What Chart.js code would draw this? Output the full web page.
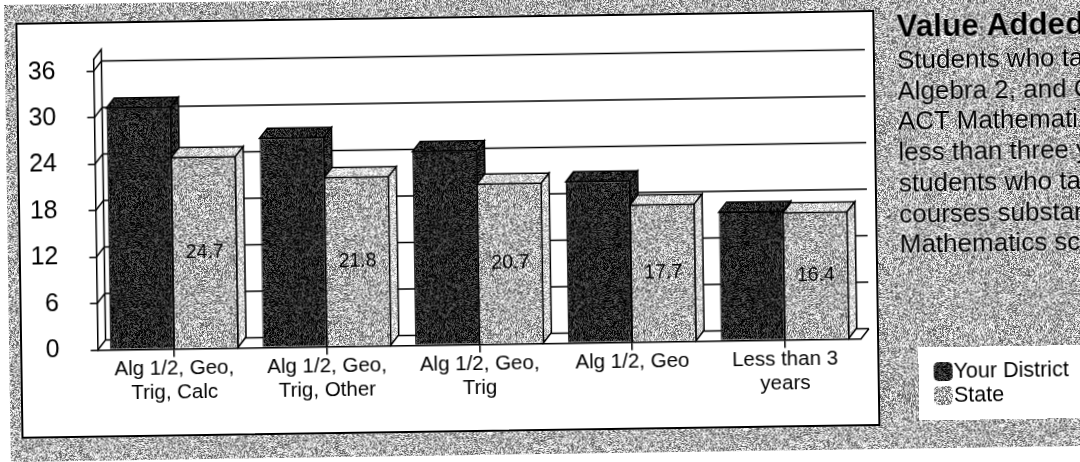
<!DOCTYPE html>
<html>
<head>
<meta charset="utf-8">
<title>Value Added</title>
<script src="https://cdn.jsdelivr.net/npm/chart.js@4"></script>
<style>
  html, body { margin: 0; padding: 0; width: 1080px; height: 462px; overflow: hidden; background: #fff; }
  body { font-family: "Liberation Sans", Arial, sans-serif; color: #000; }
  #page { position: absolute; left: 0; top: 0; width: 1120px; height: 480px; transform-origin: 0 0; transform: rotate(-0.85deg); }
  #paper { position: absolute; left: 4px; top: 5px; width: 1116px; height: 457px; }
  #panel { position: absolute; left: 15px; top: 23px; width: 855px; height: 412px; background: #fff; border: 2px solid #000; }
  #myChart { position: absolute; left: 0; top: 0; }
  #title { position: absolute; left: 896px; top: 22px; font-size: 31.5px; font-weight: bold; line-height: 34px; white-space: nowrap; text-shadow: 0 0 3px #fff; }
  #notes { position: absolute; left: 896px; top: 58px; font-size: 26px; line-height: 30.7px; white-space: nowrap; text-shadow: 0 0 3px #fff; }
  #legendBox { position: absolute; left: 913px; top: 361px; width: 200px; height: 73px; background: #fff; font-size: 21.5px; }
  .legendRow { position: absolute; left: 15px; height: 24px; line-height: 24px; white-space: nowrap; }
  .legendRow canvas { position: absolute; left: 0; top: 3px; border-radius: 5px; }
  .legendRow span { position: absolute; left: 20px; top: 0; }
</style>
</head>
<body>
<div id="page">
  <div id="paper"></div>
  <div id="panel"></div>
  <canvas id="myChart" width="1080" height="462"></canvas>
  <div id="title">Value Added</div>
  <div id="notes"></div>
  <div id="legendBox"></div>
</div>
<script>
'use strict';

//Chart data
let categories = [
  ['Alg 1/2, Geo,', 'Trig, Calc'],
  ['Alg 1/2, Geo,', 'Trig, Other'],
  ['Alg 1/2, Geo,', 'Trig'],
  ['Alg 1/2, Geo'],
  ['Less than 3', 'years']
];
let districtValues = [31.2, 27.0, 25.0, 20.8, 16.6];
let stateValues = [24.7, 21.8, 20.7, 17.7, 16.4];
let yTicks = [0, 6, 12, 18, 24, 30, 36];
let seriesNames = ['Your District', 'State'];
let noteLines = [
  'Students who ta',
  'Algebra 2, and C',
  'ACT Mathemati',
  'less than three y',
  'students who ta',
  'courses substan',
  'Mathematics sc'
];

//how far the back wall sits from the front of the bars
const depthX = 8;
const depthY = 10;

//scanned speckle, seeded so every run looks the same
let seed = 12345;
function nextNoise(){
  seed = (seed * 1664525 + 1013904223) % 4294967296;
  return seed / 4294967296;
}

//grey level around base, amp sets how strong the specks are
function makeTile(size, base, amp){
  let tile = document.createElement('canvas');
  tile.width = size;
  tile.height = size;
  let tileCtx = tile.getContext('2d');
  let img = tileCtx.createImageData(size, size);
  for (let i = 0; i < img.data.length; i += 4) {
    let shade = base + amp * (nextNoise() - 0.5);
    img.data[i] = shade;
    img.data[i + 1] = shade;
    img.data[i + 2] = shade;
    img.data[i + 3] = 255;
  }
  tileCtx.putImageData(img, 0, 0);
  return tile;
}

let paperTile = makeTile(256, 180, 230);
let darkTile = makeTile(128, 35, 130);
let lightTile = makeTile(128, 175, 210);
let paleTile = makeTile(128, 215, 150);

document.getElementById('paper').style.background = `url(${paperTile.toDataURL()})`;
document.getElementById('notes').innerHTML = noteLines.join('<br>');

let ctx = document.getElementById('myChart').getContext('2d');
let darkPattern = ctx.createPattern(darkTile, 'repeat');
let lightPattern = ctx.createPattern(lightTile, 'repeat');
let palePattern = ctx.createPattern(paleTile, 'repeat');

//legend in its own white box, like the original
function addLegendRow(name, tile, top){
  let row = document.createElement('div');
  row.className = 'legendRow';
  row.style.top = top + 'px';
  let swatch = document.createElement('canvas');
  swatch.width = 19;
  swatch.height = 19;
  swatch.getContext('2d').drawImage(tile, 0, 0);
  let label = document.createElement('span');
  label.textContent = name;
  row.appendChild(swatch);
  row.appendChild(label);
  document.getElementById('legendBox').appendChild(row);
}
addLegendRow(seriesNames[0], darkTile, 12);
addLegendRow(seriesNames[1], lightTile, 36);

function drawFace(c, points, fill){
  c.beginPath();
  c.moveTo(points[0][0], points[0][1]);
  for (let i = 1; i < points.length; i++) {
    c.lineTo(points[i][0], points[i][1]);
  }
  c.closePath();
  c.fillStyle = fill;
  c.fill();
  c.stroke();
}

function drawBarFaces(c, bars, fill){
  bars.forEach(function(bar){
    let left = bar.x - bar.width / 2;
    let right = bar.x + bar.width / 2;
    drawFace(c, [[left, bar.y], [left + depthX, bar.y - depthY], [right + depthX, bar.y - depthY], [right, bar.y]], fill);
    drawFace(c, [[right, bar.y], [right + depthX, bar.y - depthY], [right + depthX, bar.base - depthY], [right, bar.base]], fill);
  });
}

//back wall, floor, gridlines, then the top and side faces of the bars
let wallPlugin = {
  id: 'wall',
  beforeDatasetsDraw(chart){
    let c = chart.ctx;
    let area = chart.chartArea;
    let yScale = chart.scales.y;
    c.save();
    c.strokeStyle = '#000';
    c.lineWidth = 1.5;
    c.beginPath();
    for (let i = 0; i < yTicks.length; i++) {
      let y = yScale.getPixelForValue(yTicks[i]);
      c.moveTo(area.left, y);
      c.lineTo(area.left + depthX, y - depthY);
      c.lineTo(area.right + depthX, y - depthY);
    }
    c.moveTo(area.left, area.top);
    c.lineTo(area.left + depthX, area.top - depthY);
    c.lineTo(area.left + depthX, area.bottom - depthY);
    c.moveTo(area.right, area.bottom);
    c.lineTo(area.right + depthX, area.bottom - depthY);
    c.stroke();
    //State goes over District here, the library then paints the fronts
    drawBarFaces(c, chart.getDatasetMeta(0).data, darkPattern);
    drawBarFaces(c, chart.getDatasetMeta(1).data, palePattern);
    c.restore();
  }
};

//value labels sit in the middle of the State bars
let valueLabelPlugin = {
  id: 'valueLabels',
  afterDatasetsDraw(chart){
    let c = chart.ctx;
    let bars = chart.getDatasetMeta(1).data;
    c.save();
    c.fillStyle = '#000';
    c.font = '19.5px "Liberation Sans", Arial, sans-serif';
    c.textAlign = 'center';
    c.textBaseline = 'middle';
    bars.forEach(function(bar, i){
      c.fillText(stateValues[i].toFixed(1), bar.x, (bar.y + bar.base) / 2);
    });
    c.restore();
  }
};

let myChartObj = {
  type: 'bar',
  data: {
    labels: categories,
    datasets: [{
      label: seriesNames[0],
      data: districtValues,
      backgroundColor: darkPattern,
      borderColor: '#000',
      borderWidth: 1
    },
    {
      label: seriesNames[1],
      data: stateValues,
      backgroundColor: lightPattern,
      borderColor: '#000',
      borderWidth: 1
    }]
  },
  options: {
    responsive: false,
    animation: false,
    categoryPercentage: 0.84,
    barPercentage: 1,
    layout: {
      padding: { left: 20, right: 224, top: 61, bottom: 50 }
    },
    plugins: {
      legend: { display: false },
      tooltip: { enabled: false }
    },
    scales: {
      x: {
        afterFit(axis){
          axis.height = 60.5;
        },
        grid: { offset: false, drawOnChartArea: false, color: '#000', lineWidth: 1.5, tickLength: 8 },
        border: { color: '#000', width: 1.5 },
        ticks: {
          color: '#000',
          autoSkip: false,
          maxRotation: 0,
          padding: 0,
          font: { family: '"Liberation Sans", Arial, sans-serif', size: 20.5, lineHeight: 1.17 }
        }
      },
      y: {
        min: 0,
        max: 37.5,
        afterFit(axis){
          axis.width = 72.5;
        },
        afterBuildTicks(axis){
          axis.ticks = yTicks.map(v => ({ value: v }));
        },
        grid: { drawOnChartArea: false, color: '#000', lineWidth: 1.5, tickLength: 7 },
        border: { color: '#000', width: 1.5 },
        ticks: {
          color: '#000',
          padding: 31,
          font: { family: '"Liberation Sans", Arial, sans-serif', size: 25 }
        }
      }
    }
  },
  plugins: [wallPlugin, valueLabelPlugin]
};

const myChart = new Chart(ctx, myChartObj);
</script>
</body>
</html>
